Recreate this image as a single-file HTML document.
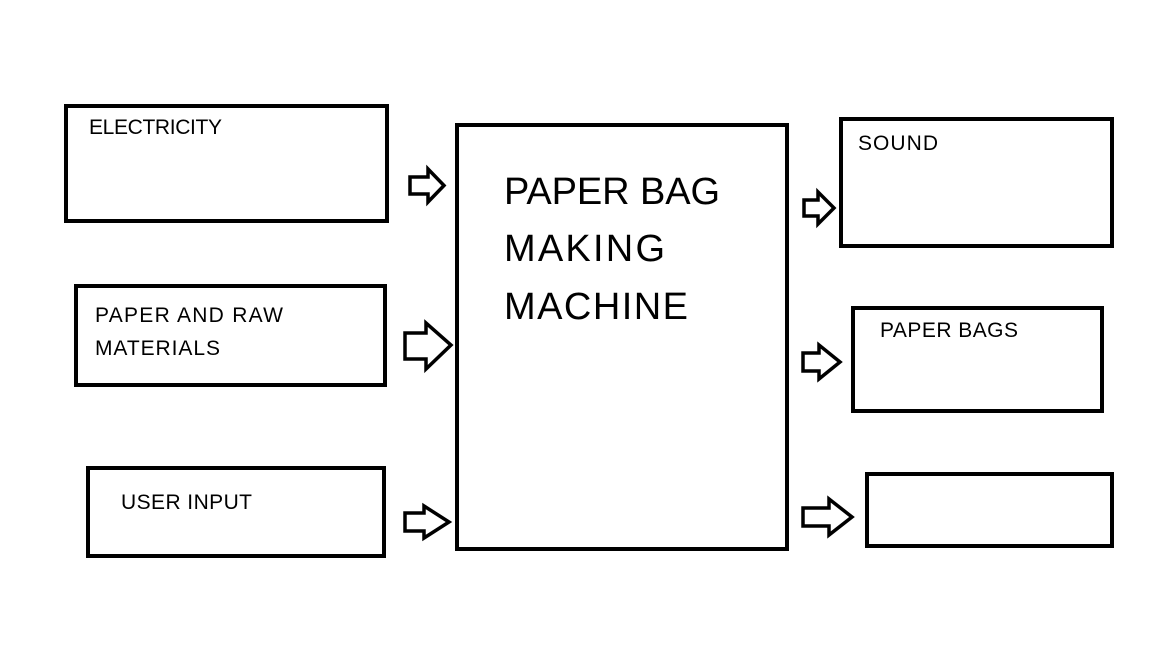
<!DOCTYPE html>
<html><head><meta charset="utf-8"><style>
html,body{margin:0;padding:0;background:#fff;width:1152px;height:648px;overflow:hidden}
text{font-family:"Liberation Sans",sans-serif;fill:#000}
</style></head><body>
<svg width="1152" height="648" viewBox="0 0 1152 648">
<g fill="none" stroke="#000" stroke-width="4">
<rect x="66" y="106" width="321" height="115"/>
<rect x="76" y="286" width="309" height="99"/>
<rect x="88" y="468" width="296" height="88"/>
<rect x="457" y="125" width="330" height="424"/>
<rect x="841" y="119" width="271" height="127"/>
<rect x="853" y="308" width="249" height="103"/>
<rect x="867" y="474" width="245" height="72"/>
</g>
<g fill="none" stroke="#000" stroke-width="3.5" stroke-linejoin="miter">
<polygon points="410,177 428,177 428,169 444,185.5 428,202 428,194 410,194"/>
<polygon points="405,333 426,333 426,323 451,345 426,369 426,359 405,359"/>
<polygon points="405,513 424,513 424,506 449,522 424,538 424,531 405,531"/>
<polygon points="804,200 818,200 818,192 834,208 818,224 818,216 804,216"/>
<polygon points="803,353 819,353 819,345 840,362 819,379 819,371 803,371"/>
<polygon points="803,508 829,508 829,499 852,517 829,535 829,526 803,526"/>
</g>
<text x="89" y="134" font-size="21" textLength="133">ELECTRICITY</text>
<text x="95" y="322" font-size="21" textLength="188">PAPER AND RAW</text>
<text x="95" y="355" font-size="21" textLength="125">MATERIALS</text>
<text x="121" y="509" font-size="21" textLength="131">USER INPUT</text>
<text x="504" y="204" font-size="38" textLength="216">PAPER BAG</text>
<text x="504" y="261" font-size="38" textLength="161">MAKING</text>
<text x="504" y="319" font-size="38" textLength="184">MACHINE</text>
<text x="858" y="150" font-size="21" textLength="80">SOUND</text>
<text x="880" y="337" font-size="21" textLength="138">PAPER BAGS</text>
</svg>
</body></html>
